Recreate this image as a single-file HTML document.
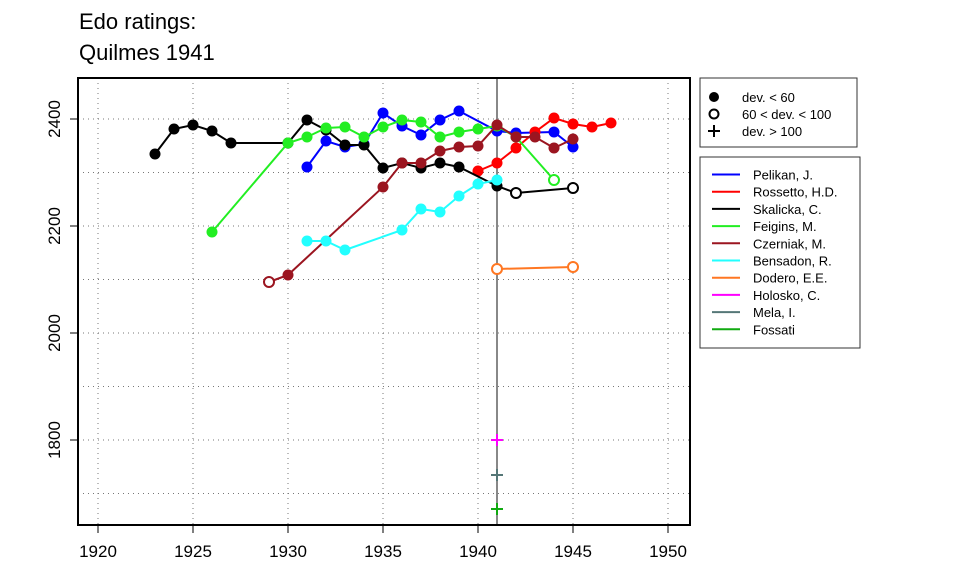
<!DOCTYPE html>
<html><head><meta charset="utf-8"><style>body{margin:0;background:#fff}svg{display:block}text{font-family:"Liberation Sans",sans-serif}</style></head>
<body>
<svg id="s" width="960" height="576" viewBox="0 0 960 576" xmlns="http://www.w3.org/2000/svg">
<text x="79" y="29" font-size="22">Edo ratings:</text>
<text x="79" y="60" font-size="22">Quilmes 1941</text>
<g id="grid" stroke="#777" stroke-width="1" stroke-dasharray="1,4"></g>
<line x1="497" y1="78" x2="497" y2="525" stroke="#888" stroke-width="2"/>
<g id="data"></g>
<rect x="78" y="78" width="612" height="447" fill="none" stroke="#000" stroke-width="2"/>
<g id="ax" font-size="17"></g>
<rect x="700" y="78" width="157" height="69" fill="#fff" stroke="#333"/>
<circle cx="714" cy="97" r="5" fill="#000"/>
<circle cx="714" cy="114" r="4.5" fill="none" stroke="#000" stroke-width="2"/>
<path d="M708 131h12M714 125v12" stroke="#000" stroke-width="2"/>
<g font-size="13"><text x="742" y="102">dev. &lt; 60</text><text x="742" y="119">60 &lt; dev. &lt; 100</text><text x="742" y="136">dev. &gt; 100</text></g>
<rect x="700" y="157" width="160" height="191" fill="#fff" stroke="#333"/>
<g id="leg" font-size="13"></g>
</svg>
<script>
const X=y=>98+(y-1920)*19;
const ns="http://www.w3.org/2000/svg";
function el(p,t,a){const e=document.createElementNS(ns,t);for(const k in a)e.setAttribute(k,a[k]);document.getElementById(p).appendChild(e);return e;}
for(let y=1920;y<=1950;y+=5){el("grid","line",{x1:X(y),x2:X(y),y1:78,y2:525});
 el("ax","line",{x1:X(y),x2:X(y),y1:525,y2:533,stroke:"#000"});
 const t=el("ax","text",{x:X(y),y:557,"text-anchor":"middle"});t.textContent=y;}
for(let v=1700;v<=2400;v+=100){const py=333-(v-2000)*0.535;el("grid","line",{x1:78,x2:690,y1:py,y2:py});}
for(let v=1800;v<=2400;v+=200){const py=333-(v-2000)*0.535;el("ax","line",{x1:70,x2:78,y1:py,y2:py,stroke:"#000"});
 const t=el("ax","text",{x:60,y:py,"text-anchor":"middle",transform:`rotate(-90 60 ${py})`});t.textContent=v;}
const S=[
["#00f",[[1931,167],[1932,141],[1933,147],[1934,144],[1935,113],[1936,126],[1937,135],[1938,120],[1939,111],[1941,131],[1942,133],[1944,132],[1945,147]]],
["#f00",[[1940,171],[1941,163],[1942,148],[1943,132],[1944,118],[1945,124],[1946,127],[1947,123]]],
["#000",[[1923,154],[1924,129],[1925,125],[1926,131],[1927,143],[1930,143],[1931,120],[1932,130],[1933,145],[1934,145],[1935,168],[1936,163],[1937,168],[1938,163],[1939,167],[1941,186],[1942,193,1],[1945,188,1]]],
["#2e2",[[1926,232],[1930,143],[1931,137],[1932,128],[1933,127],[1934,137],[1935,127],[1936,120],[1937,122],[1938,137],[1939,132],[1940,129],[1941,126],[1942,137],[1944,180,1]]],
["#9b1520",[[1929,282,1],[1930,275],[1935,187],[1936,163],[1937,163],[1938,151],[1939,147],[1940,146],[1941,125],[1942,137],[1943,137],[1944,148],[1945,139]]],
["#2ff",[[1931,241],[1932,241],[1933,250],[1936,230],[1937,209],[1938,212],[1939,196],[1940,184],[1941,180]]],
["#f72",[[1941,269,1],[1945,267,1]]],
];
for(const [c,p] of S){el("data","polyline",{points:p.map(q=>X(q[0])+","+q[1]).join(" "),fill:"none",stroke:c,"stroke-width":2});
 for(const q of p){if(q[2])el("data","circle",{cx:X(q[0]),cy:q[1],r:5,fill:"#fff",stroke:c,"stroke-width":2});else el("data","circle",{cx:X(q[0]),cy:q[1],r:5.5,fill:c});}}
for(const [c,y] of [["#f0f",440],["#577",475],["#1a1",509]])el("data","path",{d:`M${X(1941)-6} ${y}h12M${X(1941)} ${y-6}v12`,stroke:c,"stroke-width":2});
const L=[["#00f","Pelikan, J."],["#f00","Rossetto, H.D."],["#000","Skalicka, C."],["#2e2","Feigins, M."],["#9b1520","Czerniak, M."],["#2ff","Bensadon, R."],["#f72","Dodero, E.E."],["#f0f","Holosko, C."],["#577","Mela, I."],["#1a1","Fossati"]];
L.forEach((l,i)=>{const y=174.5+i*17.2;el("leg","line",{x1:712,x2:740,y1:y,y2:y,stroke:l[0],"stroke-width":2});const t=el("leg","text",{x:753,y:y+5});t.textContent=l[1];});
</script>
</body></html>
